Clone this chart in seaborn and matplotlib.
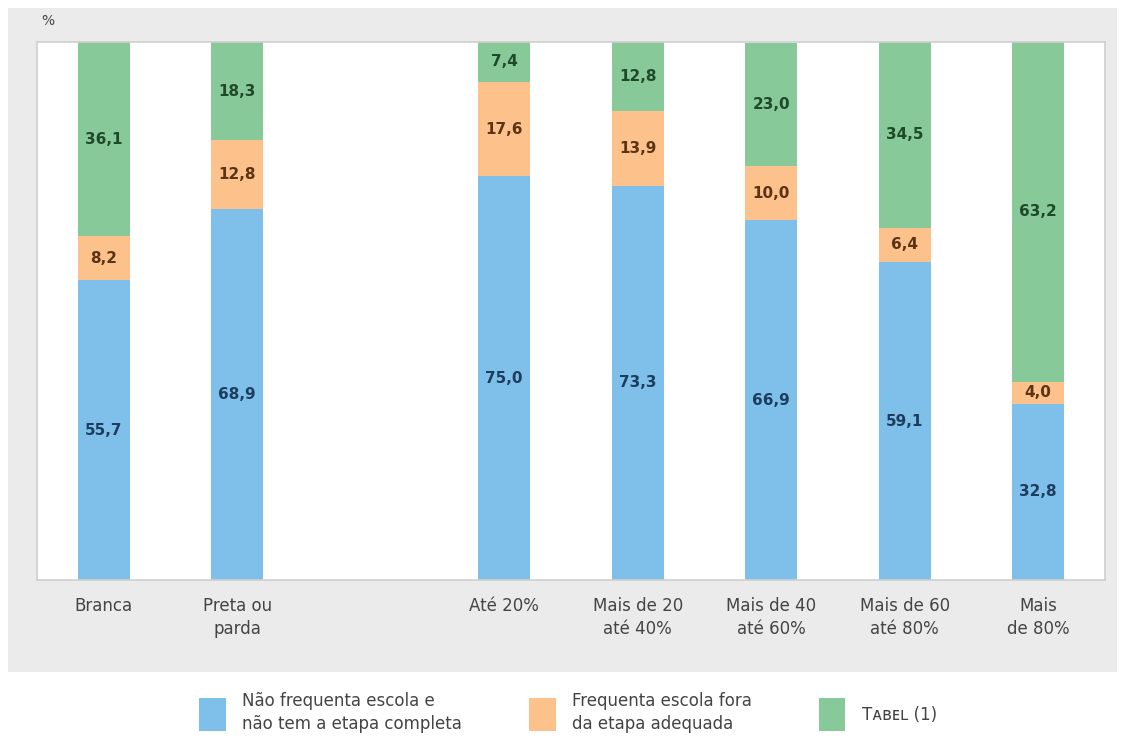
import matplotlib
matplotlib.use("Agg")
import matplotlib.pyplot as plt
from matplotlib.patches import Rectangle, Patch
import seaborn as sns
import pandas as pd

sns.set_theme(style="white")
plt.rcParams["font.family"] = ["DejaVu Sans"]

# Categories (an empty slot separates the two groups)
categories = ["Branca", "Preta ou\nparda", " ", "Até 20%", "Mais de 20\naté 40%",
              "Mais de 40\naté 60%", "Mais de 60\naté 80%", "Mais\nde 80%"]
groups = ["Branca", "Preta ou\nparda", "Até 20%", "Mais de 20\naté 40%",
          "Mais de 40\naté 60%", "Mais de 60\naté 80%", "Mais\nde 80%"]
nao_frequenta = [55.7, 68.9, 75.0, 73.3, 66.9, 59.1, 32.8]
fora_etapa = [8.2, 12.8, 17.6, 13.9, 10.0, 6.4, 4.0]
tabel = [36.1, 18.3, 7.4, 12.8, 23.0, 34.5, 63.2]

series_names = ["Não frequenta escola e\nnão tem a etapa completa",
                "Frequenta escola fora\nda etapa adequada",
                "Tᴀʙᴇʟ (1)"]
colors = ["#7fc0eb", "#fdc18c", "#88c999"]
text_colors = ["#1d3d5e", "#5a3413", "#1f4a2a"]

df = pd.DataFrame({"grupo": groups, "a": nao_frequenta, "b": fora_etapa, "c": tabel})
df["ab"] = df["a"] + df["b"]
df["abc"] = df["ab"] + df["c"]

fig = plt.figure(figsize=(11.25, 7.43), dpi=100)
fig.patch.set_facecolor("white")
fig.add_artist(Rectangle((0.007, 0.0956), 0.986, 0.893, transform=fig.transFigure,
                         facecolor="#ebebeb", edgecolor="none", zorder=0))

ax = fig.add_axes([0.0329, 0.2194, 0.9493, 0.7241])
ax.set_facecolor("white")

bw = 0.39
for col, c in zip(["abc", "ab", "a"], colors[::-1]):
    sns.barplot(data=df, x="grupo", y=col, order=categories, color=c,
                width=bw, saturation=1, ax=ax, linewidth=0)

# Segment value labels
pos = {g: categories.index(g) for g in groups}
for i, row in df.iterrows():
    x = pos[row["grupo"]]
    bottoms = [0, row["a"], row["ab"]]
    for val, bot, tc in zip([row["a"], row["b"], row["c"]], bottoms, text_colors):
        ax.text(x, bot + val / 2, f"{val:.1f}".replace(".", ","), ha="center",
                va="center", fontsize=11, fontweight="bold", color=tc)

ax.set_xlim(-0.5, 7.5)
ax.set_ylim(0, 100)
ax.set_yticks([])
ax.set_xlabel("")
ax.set_ylabel("")
ax.tick_params(axis="x", length=0, pad=12, labelsize=12, labelcolor="#444444")
for lbl in ax.get_xticklabels():
    lbl.set_linespacing(1.35)
for s in ax.spines.values():
    s.set_color("#cfcfcf")
    s.set_linewidth(1.2)

fig.text(0.037, 0.972, "%", fontsize=10, color="#444444", ha="left", va="center")

handles = [Patch(facecolor=c, edgecolor="none") for c in colors]
leg = fig.legend(handles, series_names, loc="center", bbox_to_anchor=(0.505, 0.041), ncol=3,
                 frameon=False, fontsize=12, handlelength=1.6, handleheight=2.7,
                 columnspacing=4.0, handletextpad=1.0, labelcolor="#444444")
for t in leg.get_texts():
    t.set_linespacing(1.35)

fig.savefig("out.png", dpi=100)
